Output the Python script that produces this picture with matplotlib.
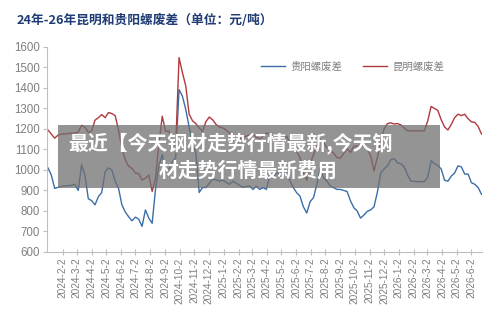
import numpy as np
import pandas as pd
import matplotlib
matplotlib.use("Agg")
from matplotlib import pyplot as plt
from matplotlib.patches import Rectangle

plt.rcParams['font.family'] = ['Noto Sans CJK SC', 'DejaVu Sans']

# weekly samples starting 2024-01-02
start = "2024-01-02"

guiyang = [
  1010, 975, 910, 915, 920, 922, 923, 925, 930, 900,
  1025, 975, 860, 850, 830, 870, 890, 990, 1010, 1000,
  945, 910, 830, 795, 772, 752, 770, 760, 725, 805,
  765, 740, 905, 1020, 1075, 995, 1005, 1040, 1060, 1392,
  1360, 1295, 1210, 1125, 1085, 890, 915, 914, 935, 955,
  952, 946, 950, 940, 930, 945, 935, 925, 915, 920,
  922, 905, 920, 905, 914, 905, 970, 963, 985, 979,
  1003, 979, 946, 914, 889, 872, 820, 790, 845, 865,
  930, 1010, 963, 945, 922, 914, 905, 905, 900, 895,
  850, 816, 800, 765, 780, 798, 805, 820, 890, 985,
  1005, 1020, 1050, 1055, 1035, 1030, 1015, 975, 946, 945,
  943, 943, 943, 965, 1045, 1030, 1022, 1005, 950, 945,
  970, 985, 1020, 1015, 980, 980, 938, 930, 914, 881,
]

kunming = [
  1195, 1175, 1155, 1170, 1175, 1175, 1178, 1180, 1180, 1185,
  1218, 1208, 1183, 1190, 1243, 1255, 1270, 1255, 1280, 1275,
  1265, 1195, 1105, 1050, 1018, 1008, 985, 982, 950, 960,
  975, 895, 960, 1125, 1262, 1188, 1190, 1135, 1112, 1548,
  1475, 1410, 1273, 1240, 1226, 1205, 1188, 1236, 1258, 1245,
  1222, 1210, 1205, 1195, 1180, 1170, 1160, 1150, 1160, 1165,
  1170, 1175, 1160, 1150, 1165, 1180, 1175, 1160, 1150, 1140,
  1150, 1165, 1130, 1110, 1090, 1060, 985, 950, 1030, 1075,
  1115, 1150, 1135, 1108, 1095, 1082, 1060, 1058, 1080, 1105,
  1085, 1115, 1115, 1122, 1115, 1103, 1070, 995, 1060, 1140,
  1200, 1226, 1230, 1224, 1226, 1220, 1205, 1191, 1191, 1191,
  1191, 1191, 1191, 1240, 1310, 1300, 1290, 1245, 1210, 1195,
  1222, 1255, 1272, 1265, 1272, 1250, 1235, 1232, 1212, 1175,
]

tick_dates = pd.date_range("2024-01-02", "2026-06-02", freq="MS") + pd.Timedelta(days=1)
tick_labels = ["%d-%d-2" % (d.year, d.month) for d in tick_dates]

title = "24年-26年昆明和贵阳螺废差（单位：元/吨）"
overlay1 = "最近【今天钢材走势行情最新,今天钢"
overlay2 = "材走势行情最新费用"

dates = pd.date_range(start, periods=len(guiyang), freq="7D")

blue = '#3a6ea8'
red = '#b03a3c'

fig = plt.figure(figsize=(5.0, 3.13), dpi=100)
ax = fig.add_axes([0.094, 0.195, 0.870, 0.655])

ax.plot(dates, guiyang, color=blue, linewidth=1.0, label='贵阳螺废差')
ax.plot(dates, kunming, color=red, linewidth=1.0, label='昆明螺废差')

ax.set_ylim(600, 1600)
ax.set_yticks(np.arange(600, 1601, 100))
ax.set_xlim(dates[0] - pd.Timedelta(days=2), dates[-1] + pd.Timedelta(days=1))
ax.set_xticks(tick_dates)
ax.set_xticklabels(tick_labels, rotation=90, fontsize=7.3, color='#7f7f7f',
                   family=['Liberation Sans', 'DejaVu Sans'])
for lab in ax.get_yticklabels():
  lab.set_family(['Liberation Sans', 'DejaVu Sans'])
ax.tick_params(axis='y', labelsize=8.3, labelcolor='#7f7f7f', color='#bfbfbf',
               length=3, direction='out', pad=2)
ax.tick_params(axis='x', color='#bfbfbf', length=4, direction='inout', pad=2)

for s in ['top', 'right']:
  ax.spines[s].set_visible(False)
for s in ['left', 'bottom']:
  ax.spines[s].set_color('#bfbfbf')
  ax.spines[s].set_linewidth(0.8)

leg = ax.legend(loc='upper left', bbox_to_anchor=(0.493, 0.93), ncol=2, frameon=False,
                fontsize=7.5, handlelength=2.3, columnspacing=2.0, handletextpad=0.5,
                borderaxespad=0, borderpad=0)
for t in leg.get_texts():
  t.set_color('#7f7f7f')

fig.text(17 / 500, 1 - 20.5 / 313, title, fontsize=9.2, fontweight='bold',
         color='#1f3c74', ha='left', va='center')

# grey banner over the chart
fig.patches.append(Rectangle((58 / 500, 1 - 188 / 313), 382 / 500, 63 / 313,
                             transform=fig.transFigure, facecolor='#707070',
                             alpha=0.75, edgecolor='none', zorder=5))
fig.text(68 / 500, 1 - 143 / 313, overlay1, fontsize=14.3, fontweight='bold',
         color='white', ha='left', va='center', zorder=6)
fig.text(248 / 500, 1 - 170 / 313, overlay2, fontsize=14.3, fontweight='bold',
         color='white', ha='center', va='center', zorder=6)

fig.savefig('out.png', dpi=100)
